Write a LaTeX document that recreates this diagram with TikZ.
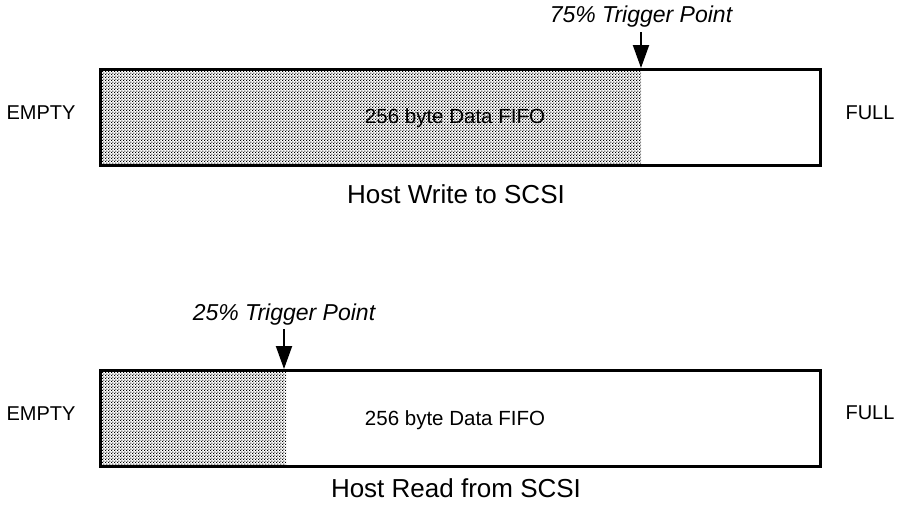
\documentclass[tikz,border=0pt]{standalone}
\usepackage{fontspec}
\setmainfont{Liberation Sans}
\usetikzlibrary{arrows.meta,patterns.meta}
% staggered screen of fine dots for the occupied part of a FIFO
\pgfdeclarepattern{
  name=screendots,
  type=uncolored,
  bottom left={\pgfpoint{0pt}{0pt}},
  top right={\pgfpoint{3.2pt}{3.2pt}},
  tile size={\pgfpoint{3.2pt}{3.2pt}},
  code={
    \pgfpathrectangle{\pgfpoint{0pt}{0pt}}{\pgfpoint{1.3pt}{1.3pt}}
    \pgfpathrectangle{\pgfpoint{1.6pt}{1.6pt}}{\pgfpoint{1.3pt}{1.3pt}}
    \pgfusepath{fill}
  }
}
\tikzset{
  fifo/.style={draw=black, line width=3pt, minimum width=720pt, minimum height=96pt,
    inner sep=0pt, outer sep=0pt},
  filled/.style={pattern=screendots, pattern color=black},
  sidelabel/.style={font=\fontsize{20}{24}\selectfont, anchor=base, inner sep=0pt},
  fifolabel/.style={font=\fontsize{20.5}{24}\selectfont, anchor=base, inner sep=0pt},
  caption/.style={font=\fontsize{26}{30}\selectfont, anchor=base, inner sep=0pt},
  trigger/.style={font=\fontsize{23}{27}\selectfont\itshape, anchor=base, inner sep=0pt},
  pointer/.style={line width=2pt, -{Triangle[length=23pt,width=16pt]}, shorten >=1pt}
}
\begin{document}
\begin{tikzpicture}[x=1pt,y=-1pt]
  \useasboundingbox (0,0) rectangle (898,507);

  % ---- Host write: FIFO fills up to 75% ----
  \fill[filled] (100,69) rectangle (641,165);
  \node[fifo] (wbar) at (460,117) {};
  \node[fifolabel] (wdata) at (455,123) {256 byte Data FIFO};
  \node[sidelabel] (wempty) at (41,119) {EMPTY};
  \node[sidelabel] (wfull) at (870,119) {FULL};
  \node[caption] (wcap) at (456,203) {Host Write to SCSI};
  \node[trigger] (wtrig) at (641,22) {75\% Trigger Point};
  \coordinate (wtop) at (641,32);
  \coordinate (wpt) at (641,69);
  \draw[pointer] (wtop) -- (wpt);

  % ---- Host read: FIFO drains at 25% ----
  \fill[filled] (100,370) rectangle (286,466);
  \node[fifo] (rbar) at (460,418) {};
  \node[fifolabel] (rdata) at (455,425) {256 byte Data FIFO};
  \node[sidelabel] (rempty) at (41,420) {EMPTY};
  \node[sidelabel] (rfull) at (870,419) {FULL};
  \node[caption] (rcap) at (456,497) {Host Read from SCSI};
  \node[trigger] (rtrig) at (284,320) {25\% Trigger Point};
  \coordinate (rtop) at (284,329);
  \coordinate (rpt) at (284,370);
  \draw[pointer] (rtop) -- (rpt);
\end{tikzpicture}
\end{document}
